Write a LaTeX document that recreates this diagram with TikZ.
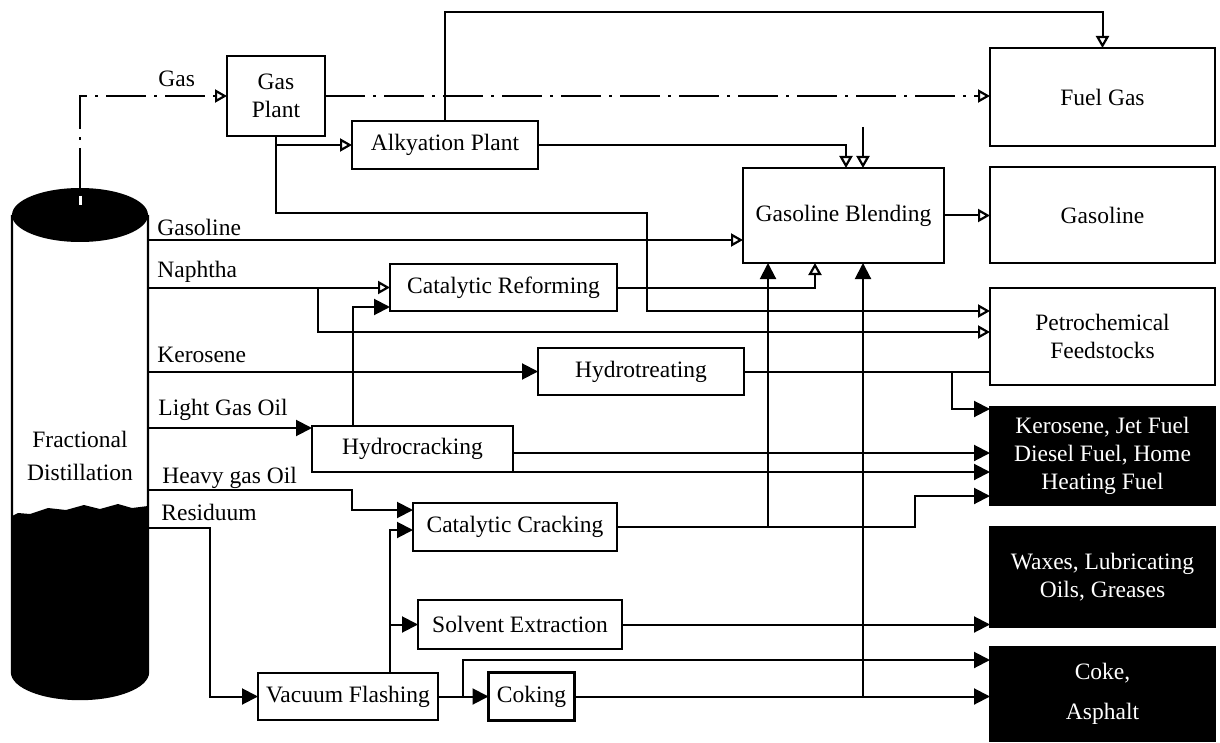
\documentclass[tikz,border=0pt]{standalone}
\usepackage{fontspec}
\setmainfont{Liberation Serif}
\usetikzlibrary{arrows.meta, positioning}

\begin{document}
\begin{tikzpicture}[
    x=0.5pt, y=-0.5pt,
    font=\fontsize{11.75}{14}\selectfont,
    box/.style={draw, line width=1.2pt, inner sep=0pt, outer sep=0pt, align=center},
    product/.style={box, fill=black, text=white, minimum width=112.5pt},
    cut/.style={anchor=base west, inner sep=0pt},
    pipe/.style={line width=1pt},
    flow/.style={pipe, -{Triangle[length=8pt, width=8pt]}},
    feed/.style={pipe, -{Triangle[open, length=6pt, width=6.5pt, line width=1.1pt]}},
    gasline/.style={feed, dash pattern=on 20pt off 4pt on 1.5pt off 4pt}
  ]
    \useasboundingbox (0,0) rectangle (1220,743);

    % Fractionating column
    \draw[line width=1.2pt, fill=white] (12,215) -- (12,672)
      arc[start angle=180, end angle=360, x radius=34pt, y radius=13.5pt] -- (148,215);
    \fill (12,516) -- (12,672)
      arc[start angle=180, end angle=360, x radius=34pt, y radius=13.5pt]
      -- (148,506) -- (132,508) -- (118,504) -- (100,509) -- (84,505)
      -- (66,510) -- (48,508) -- (30,514) -- (18,513) -- cycle;
    \fill (80,215) ellipse[x radius=34pt, y radius=13.5pt];
    \draw[white, line width=1.5pt] (80,196) -- (80,205);
    \node[align=center, font=\fontsize{11.75}{16.5}\selectfont] (column) at (80,456) {Fractional\\Distillation};

    % Draw-off points on the column
    \coordinate (top) at (80,188);
    \coordinate (c-gasoline) at (148,240);
    \coordinate (c-naphtha) at (148,287.5);
    \coordinate (c-kerosene) at (148,371.5);
    \coordinate (c-lgo) at (148,428);
    \coordinate (c-hgo) at (148,490);
    \coordinate (c-residuum) at (148,528);

    \node[cut] (l-gas) at (158,87) {Gas};
    \node[cut] (l-gasoline) at (157,235) {Gasoline};
    \node[cut] (l-naphtha) at (157,278) {Naphtha};
    \node[cut] (l-kerosene) at (157,362) {Kerosene};
    \node[cut] (l-lgo) at (158,415) {Light Gas Oil};
    \node[cut] (l-hgo) at (162,483) {Heavy gas Oil};
    \node[cut] (l-residuum) at (161,520) {Residuum};

    % Process units
    \node[box, minimum width=49pt, minimum height=40pt] (gasplant) at (276,96) {Gas\\Plant};
    \node[box, minimum width=93pt, minimum height=24pt] (alky) at (445,145) {Alkyation Plant};
    \node[box, minimum width=100.5pt, minimum height=47.5pt] (blend) at (843.5,215.5) {Gasoline Blending};
    \node[box, minimum width=113.5pt, minimum height=23.5pt] (reform) at (503.5,287.5) {Catalytic Reforming};
    \node[box, minimum width=103pt, minimum height=23.5pt] (hydrotreat) at (641,371.5) {Hydrotreating};
    \node[box, minimum width=100.5pt, minimum height=23pt] (hydrocrack) at (412.5,449) {Hydrocracking};
    \node[box, minimum width=102pt, minimum height=24pt] (catcrack) at (515,527) {Catalytic Cracking};
    \node[box, minimum width=102pt, minimum height=24.5pt] (solvent) at (520,624.5) {Solvent Extraction};
    \node[box, minimum width=90pt, minimum height=23.5pt] (vacuum) at (348,696.5) {Vacuum Flashing};
    \node[box, minimum width=43pt, minimum height=24pt] (coking) at (531.5,696.5) {Coking};

    % Products -- white ones on top, black ones below
    \node[box, minimum width=112.5pt, minimum height=49pt] (fuelgas) at (1102.5,97) {Fuel Gas};
    \node[box, minimum width=112.5pt, minimum height=48pt, below=10.5pt of fuelgas] (gasoline) {Gasoline};
    \node[box, minimum width=112.5pt, minimum height=48.5pt, below=12.5pt of gasoline] (petro) {Petrochemical\\Feedstocks};
    \node[product, minimum height=49pt, below=11pt of petro] (kero) {Kerosene, Jet Fuel\\Diesel Fuel, Home\\Heating Fuel};
    \node[product, minimum height=50pt, below=11pt of kero] (waxes) {Waxes, Lubricating\\Oils, Greases};
    \node[product, minimum height=47pt, below=10pt of waxes, font=\fontsize{11.75}{20}\selectfont] (coke) {Coke,\\Asphalt};

    % Junctions
    \coordinate (n-split) at (318,287.5);
    \coordinate (ht-split) at (952,371.5);
    \coordinate (vf-split) at (463,696.5);
    \coordinate (stub) at (863,127);

    % Gas
    \draw[gasline] (top) |- (gasplant.west);
    \draw[gasline] (gasplant.east) -- (gasplant.east -| fuelgas.west);
    \draw[feed] (gasplant.south |- alky.west) -- (alky.west);
    \draw[feed] (gasplant.south) |- (647,213) |- (petro.west |- 0,311);
    \draw[feed] (alky.north) -- (445,12) -| (fuelgas.north);
    \draw[feed] (alky.east) -| (blend.north -| 846,0);
    \draw[feed] (stub) -- (blend.north -| 863,0);

    % Gasoline and naphtha
    \draw[feed] (c-gasoline) -- (c-gasoline -| blend.west);
    \draw[feed] (blend.east) -- (blend.east -| gasoline.west);
    \draw[feed] (c-naphtha) -- (reform.west);
    \draw[feed] (n-split) |- (petro.west |- 0,332);
    \draw[feed] (reform.east) -| (blend.south -| 815,0);

    % Kerosene and gas oils
    \draw[flow] (c-kerosene) -- (hydrotreat.west);
    \draw[pipe] (hydrotreat.east) -- (hydrotreat.east -| petro.west);
    \draw[flow] (ht-split) |- (kero.west |- 0,409);
    \draw[flow] (c-lgo) -- (c-lgo -| hydrocrack.west);
    \draw[flow] (hydrocrack.north -| 353,0) |- (reform.west |- 0,307);
    \draw[flow] (hydrocrack.east |- 0,453) -- (kero.west |- 0,453);
    \draw[flow] (hydrocrack.south east) -- (kero.west |- hydrocrack.south east);
    \draw[flow] (c-hgo) -| (352,510) -- (catcrack.west |- 0,510);
    \draw[flow] (catcrack.east) -| (blend.south -| 768,0);
    \draw[flow] (catcrack.east) -| (915,496) -- (kero.west |- 0,496);

    % Residuum
    \draw[flow] (c-residuum) -| (210,696.5) -- (vacuum.west);
    \draw[flow] (vacuum.north -| 390,0) |- (catcrack.west |- 0,530);
    \draw[flow] (vacuum.north -| 390,0) |- (solvent.west);
    \draw[flow] (solvent.east) -- (solvent.east -| waxes.west);
    \draw[flow] (vacuum.east) -- (coking.west);
    \draw[flow] (vf-split) |- (coke.west |- 0,660);
    \draw[flow] (coking.east) -- (coking.east -| coke.west);
    \draw[flow] (coking.east -| 863,0) -- (blend.south -| 863,0);
  \end{tikzpicture}
\end{document}
